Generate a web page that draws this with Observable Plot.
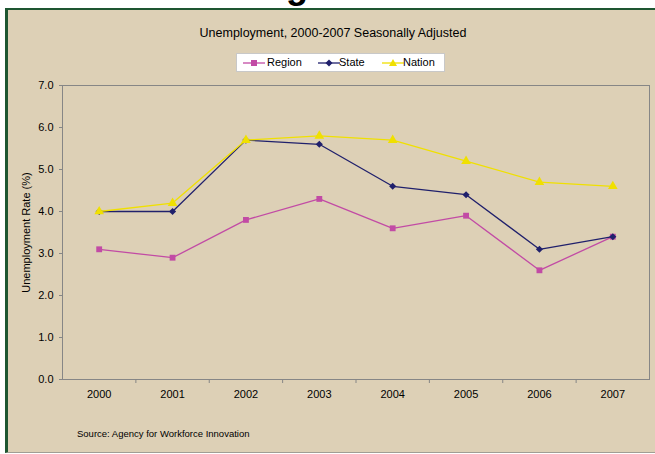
<!DOCTYPE html>
<html>
<head>
<meta charset="utf-8">
<script src="https://cdn.jsdelivr.net/npm/d3@7"></script>
<script src="https://cdn.jsdelivr.net/npm/@observablehq/plot@0.6"></script>
<style>
  html, body { margin: 0; padding: 0; background: #fff; }
  #page { position: relative; width: 655px; height: 454px; overflow: hidden; font-family: "Liberation Sans", Arial, sans-serif; color: #000; }
  #frame { position: absolute; left: 5px; top: 8px; width: 650px; height: 445px; box-sizing: border-box;
           background: #DDD0B6; border-left: 3px solid #1E5631; border-top: 2px solid #1E5631; border-bottom: 1px solid #A09E94; }
  #gclip { position: absolute; left: 280px; top: 0; width: 40px; height: 8px; overflow: hidden; }
  #gclip span { position: absolute; left: 6px; top: -32px; font-size: 36px; font-weight: bold; line-height: 36px; }
  #title { position: absolute; left: 0; width: 666px; top: 26px; text-align: center; font-size: 12.5px; }
  #legend { position: absolute; left: 236px; top: 53px; width: 207px; height: 17px; background: #fff; border: 1px solid #C8C8C8;
            font-size: 11px; }
  #legend .item { position: absolute; top: 0; height: 17px; line-height: 17px; white-space: nowrap; }
  #legend svg { position: absolute; left: 0; top: 2px; }
  #legend .lab { position: absolute; top: 0; }
  #chart { position: absolute; left: 0; top: 0; }
  #source { position: absolute; left: 77px; top: 428px; font-size: 9.5px; }
</style>
</head>
<body>
<div id="page">
  <div id="gclip"><span>g</span></div>
  <div id="frame"></div>
  <div id="chart"></div>
  <div id="title"></div>
  <div id="legend"></div>
  <div id="source"></div>
</div>
<script>
const years = [2000, 2001, 2002, 2003, 2004, 2005, 2006, 2007];
const region = [3.1, 2.9, 3.8, 4.3, 3.6, 3.9, 2.6, 3.4];
const state = [4.0, 4.0, 5.7, 5.6, 4.6, 4.4, 3.1, 3.4];
const nation = [4.0, 4.2, 5.7, 5.8, 5.7, 5.2, 4.7, 4.6];
const yTicks = [0, 1, 2, 3, 4, 5, 6, 7];
const seriesNames = ["Region", "State", "Nation"];
const titleText = "Unemployment, 2000-2007 Seasonally Adjusted";
const yLabel = "Unemployment Rate (%)";
const sourceText = "Source: Agency for Workforce Innovation";

const colors = {Region: "#C24BA5", State: "#20206C", Nation: "#F0E000"};
const symbols = {Region: "square", State: "diamond2", Nation: "triangle"};
const radii = {Region: 3.3, State: 3.2, Nation: 3.6};

const rows = [];
[region, state, nation].forEach((vals, k) => {
  vals.forEach((v, i) => rows.push({series: seriesNames[k], year: years[i], value: v}));
});
const boundaries = years.slice(0, -1).map(y => y + 0.5);

const marks = [
  Plot.frame({stroke: "#868686", strokeWidth: 1}),
  Plot.axisY({ticks: yTicks, tickFormat: d => d.toFixed(1), tickSize: 3, tickPadding: 6, stroke: "#868686",
              label: yLabel, labelAnchor: "center", labelArrow: "none", labelOffset: 40, fontSize: 11}),
  Plot.axisX({ticks: years, tickFormat: d => String(d), tickSize: 0, tickPadding: 11, label: null, fontSize: 11}),
  Plot.axisX({ticks: boundaries, tickFormat: () => "", tickSize: 4, stroke: "#868686", label: null})
];
for (const s of seriesNames) {
  const data = rows.filter(r => r.series === s);
  marks.push(Plot.line(data, {x: "year", y: "value", stroke: colors[s], strokeWidth: 1.3}));
  marks.push(Plot.dot(data, {x: "year", y: "value", fill: colors[s], stroke: "none", symbol: symbols[s], r: radii[s]}));
}

const chart = Plot.plot({
  width: 655, height: 454,
  marginLeft: 62, marginRight: 6, marginTop: 85, marginBottom: 75,
  x: {domain: [1999.5, 2007.5], axis: null},
  y: {domain: [0, 7], axis: null},
  style: {background: "transparent", fontFamily: "'Liberation Sans', Arial, sans-serif", fontSize: "11px", color: "#000", overflow: "visible"},
  marks
});
document.getElementById("chart").appendChild(chart);

document.getElementById("title").textContent = titleText;
document.getElementById("source").textContent = sourceText;

const legend = document.getElementById("legend");
const legendPos = [{x: 6, lx: 30}, {x: 81, lx: 102}, {x: 145, lx: 166}];
seriesNames.forEach((s, k) => {
  const item = document.createElement("div");
  item.className = "item";
  item.style.left = legendPos[k].x + "px";
  const c = colors[s];
  let m;
  if (s === "Region") m = `<rect x="8" y="4" width="6" height="6" fill="${c}"/>`;
  else if (s === "State") m = `<path d="M11,3.5 L14.5,7 L11,10.5 L7.5,7 Z" fill="${c}"/>`;
  else m = `<path d="M11,3 L15,10 L7,10 Z" fill="${c}"/>`;
  item.innerHTML = `<svg width="22" height="14"><line x1="0" x2="22" y1="7" y2="7" stroke="${c}" stroke-width="1.3"/>${m}</svg><span class="lab" style="left:${legendPos[k].lx - legendPos[k].x}px">${s}</span>`;
  legend.appendChild(item);
});
</script>
</body>
</html>
